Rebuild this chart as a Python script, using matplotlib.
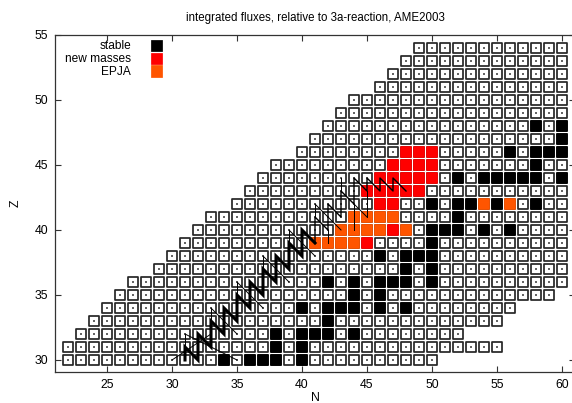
import matplotlib
matplotlib.use("Agg")
import matplotlib.pyplot as plt
from matplotlib.patches import Rectangle
from matplotlib.collections import PatchCollection

plt.rcParams['font.family'] = ['Liberation Sans', 'DejaVu Sans']

# rows of the chart: proton number Z with first and last neutron number N
row_z = [30, 31, 32, 33, 34, 35, 36, 37, 38, 39, 40, 41, 42,
         43, 44, 45, 46, 47, 48, 49, 50, 51, 52, 53, 54]
row_n_first = [22, 22, 23, 24, 25, 26, 27, 29, 30, 31, 32, 33, 35,
               36, 37, 38, 40, 41, 42, 43, 44, 46, 47, 48, 49]
row_n_last = [50, 55, 52, 55, 56, 59, 60, 60, 60, 60, 60, 60, 60,
              60, 60, 60, 60, 60, 60, 60, 60, 60, 60, 60, 60]

# stable nuclei
stable_n = [34, 36, 37, 38, 40,
            38, 40,
            38, 40, 41, 42, 44,
            42,
            40, 42, 43, 44, 46, 48,
            44, 46,
            42, 44, 46, 47, 48, 50,
            48, 50,
            46, 48, 49, 50,
            50,
            50, 51, 52, 54, 56,
            52,
            50, 52, 53, 55, 58,
            52, 54, 55, 56, 57, 58, 60,
            58,
            56, 58, 59, 60,
            60,
            58, 60]
stable_z = [30, 30, 30, 30, 30,
            31, 31,
            32, 32, 32, 32, 32,
            33,
            34, 34, 34, 34, 34, 34,
            35, 35,
            36, 36, 36, 36, 36, 36,
            37, 37,
            38, 38, 38, 38,
            39,
            40, 40, 40, 40, 40,
            41,
            42, 42, 42, 42, 42,
            44, 44, 44, 44, 44, 44, 44,
            45,
            46, 46, 46, 46,
            47,
            48, 48]

# new mass values
new_n = [45, 47, 46, 47, 45, 46, 47, 48, 49, 46, 47, 48, 49, 50,
         47, 48, 49, 50, 48, 49, 50]
new_z = [39, 40, 42, 42, 43, 43, 43, 43, 43, 44, 44, 44, 44, 44,
         45, 45, 45, 45, 46, 46, 46]

# EPJA masses
epja_n = [41, 42, 43, 44, 43, 44, 45, 46, 48, 44, 45, 46, 47, 54, 56]
epja_z = [39, 39, 39, 39, 40, 40, 40, 40, 40, 41, 41, 41, 41, 42, 42]

# reaction flow, strongest branch
flow_main_n = [31, 31, 32, 32, 33, 33, 34, 34, 35, 35, 36, 36, 37, 37,
               38, 38, 39, 39, 40, 40, 41]
flow_main_z = [30, 31, 30, 32, 31, 33, 32, 34, 33, 35, 34, 36, 35, 37,
               36, 38, 37, 39, 38, 40, 39]
# continuation above N=41
flow_upper_n = [41, 41, 42, 42, 43, 43, 44, 44, 45, 45, 46, 46, 47, 47, 48]
flow_upper_z = [39, 41, 40, 42, 41, 43, 42, 44, 43, 44, 43, 44, 43, 44, 43]
# weak branches (start -> end)
weak_n0 = [30, 31, 31, 33, 33, 35, 35, 37, 37, 39, 39, 41, 41, 42, 44, 44, 45, 43]
weak_z0 = [30, 32, 30, 33, 34, 35, 36, 37, 38, 39, 40, 41, 42, 39, 40, 42, 41, 43]
weak_n1 = [33, 35, 31, 33, 35, 35, 37, 37, 39, 39, 41, 41, 43, 42, 44, 45, 45, 43]
weak_z1 = [32, 30, 32, 34, 32, 36, 34, 38, 36, 40, 38, 42, 40, 40, 42, 41, 43, 44]

fig = plt.figure(figsize=(5.72, 4.03), dpi=100)
ax = fig.add_axes([55 / 572, 31.3 / 403, 520 / 572, 336.7 / 403])

side = 0.8
cells = []
cx, cy = [], []
for z, n0, n1 in zip(row_z, row_n_first, row_n_last):
    for n in range(n0, n1 + 1):
        cells.append(Rectangle((n - side / 2, z - side / 2), side, side))
        cx.append(n)
        cy.append(z)
ax.add_collection(PatchCollection(cells, facecolor='white', edgecolor='#262626',
                                  linewidth=1.25, zorder=2))
ax.scatter(cx, cy, s=0.6, marker='s', color='#666666', linewidths=0, zorder=3)


def filled(ns, zs, colour):
    boxes = [Rectangle((n - side / 2, z - side / 2), side, side) for n, z in zip(ns, zs)]
    ax.add_collection(PatchCollection(boxes, facecolor=colour, edgecolor=colour,
                                      linewidth=1.25, zorder=4))


filled(stable_n, stable_z, 'black')
filled(new_n, new_z, '#ff0000')
filled(epja_n, epja_z, '#ff5500')

ax.plot(flow_main_n, flow_main_z, color='black', lw=2.2, zorder=6,
        solid_joinstyle='miter')
ax.plot(flow_upper_n, flow_upper_z, color='black', lw=1.0, zorder=6)
for a, b, c, d in zip(weak_n0, weak_z0, weak_n1, weak_z1):
    ax.plot([a, c], [b, d], color='black', lw=0.7, zorder=5)

# key in the upper left corner
key_labels = ['stable', 'new masses', 'EPJA']
key_colours = ['black', '#ff0000', '#ff5500']
for i, (lab, col) in enumerate(zip(key_labels, key_colours)):
    y = 54.15 - i * 0.98
    ax.text(26.85, y, lab, ha='right', va='center', fontsize=8.6)
    ax.add_patch(Rectangle((28.85 - side / 2, y - side / 2), side, side,
                           facecolor=col, edgecolor=col, lw=1.25, zorder=4))

ax.set_xlim(21, 61)
ax.set_ylim(29.1, 55)
ax.set_xticks([25, 30, 35, 40, 45, 50, 55, 60])
ax.set_yticks([30, 35, 40, 45, 50, 55])
ax.tick_params(direction='in', length=4, width=0.8, top=True, right=True,
               labelsize=8.8, pad=5, color='#333333')
for sp in ax.spines.values():
    sp.set_linewidth(0.9)
    sp.set_color('#333333')
ax.set_xlabel('N', fontsize=8.8, labelpad=1)
ax.set_ylabel('Z', fontsize=8.8, labelpad=9)
fig.text(315 / 572, 1 - 17.5 / 403, 'integrated fluxes, relative to 3a-reaction, AME2003',
         ha='center', va='center', fontsize=8.3)

fig.savefig('out.png', dpi=100)
